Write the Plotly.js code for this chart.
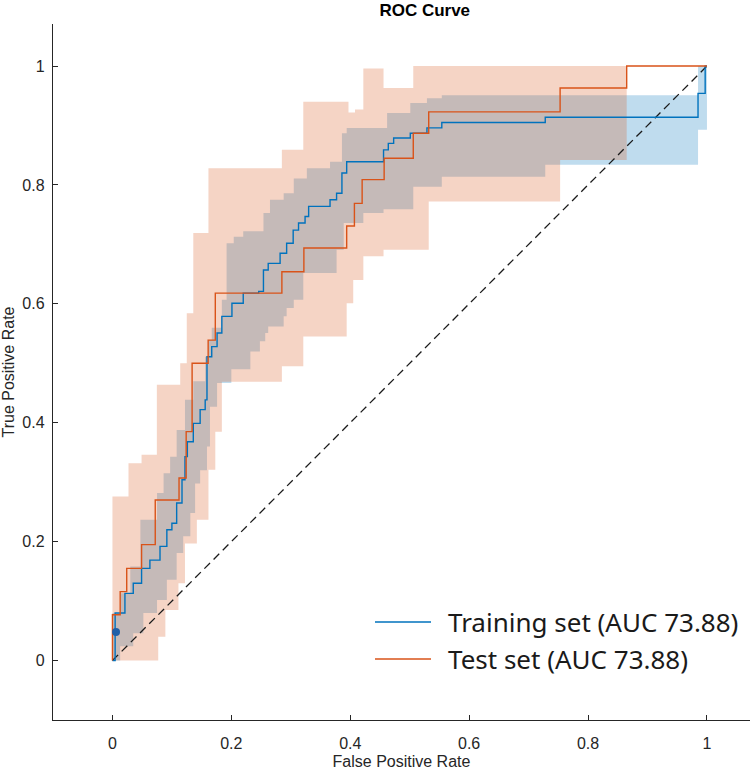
<!DOCTYPE html>
<html><head><meta charset="utf-8">
<script src="https://cdn.plot.ly/plotly-3.0.1.min.js"></script>
<style>html,body{margin:0;padding:0;background:#fff}</style>
</head><body><div id="chart" style="width:750px;height:771px"></div>
<script>
// ---- Data ----
const tickVals = [0, 0.2, 0.4, 0.6, 0.8, 1];
const tickText = ["0", "0.2", "0.4", "0.6", "0.8", "1"];

// Training ROC curve (step points: x where jump happens, y after jump)
const trainFPR = [0, 0.0045, 0.021, 0.035, 0.049, 0.063, 0.080, 0.0915, 0.100, 0.108, 0.117, 0.122, 0.126, 0.136, 0.1475, 0.156, 0.159, 0.167, 0.176, 0.184, 0.201, 0.220, 0.246, 0.254, 0.262, 0.282, 0.293, 0.304, 0.313, 0.324, 0.330, 0.366, 0.377, 0.386, 0.394, 0.456, 0.464, 0.473, 0.501, 0.529, 0.554, 0.728, 0.985, 0.997, 1.0];
const trainTPR = [0, 0.080, 0.113, 0.130, 0.155, 0.169, 0.192, 0.220, 0.231, 0.265, 0.304, 0.343, 0.368, 0.399, 0.422, 0.4385, 0.511, 0.528, 0.551, 0.579, 0.601, 0.618, 0.621, 0.657, 0.668, 0.685, 0.702, 0.724, 0.736, 0.747, 0.764, 0.775, 0.786, 0.820, 0.839, 0.859, 0.870, 0.879, 0.887, 0.896, 0.905, 0.914, 0.954, 1.0, 1.0];

// Test ROC curve
const testFPR = [0, 0, 0.013, 0.024, 0.049, 0.072, 0.112, 0.124, 0.134, 0.161, 0.173, 0.285, 0.322, 0.394, 0.407, 0.420, 0.457, 0.506, 0.532, 0.753, 0.865, 1.0];
const testTPR = [0, 0.077, 0.116, 0.155, 0.195, 0.270, 0.307, 0.385, 0.500, 0.539, 0.618, 0.654, 0.694, 0.731, 0.769, 0.809, 0.845, 0.887, 0.923, 0.963, 1.0, 1.0];

// Training confidence band
const trainUpperX = [0, 0.013, 0.030, 0.047, 0.075, 0.086, 0.097, 0.108, 0.122, 0.136, 0.156, 0.1615, 0.167, 0.184, 0.192, 0.204, 0.220, 0.254, 0.265, 0.288, 0.305, 0.327, 0.366, 0.386, 0.394, 0.462, 0.501, 0.529, 0.554, 0.985, 1.0];
const trainUpperY = [0.080, 0.113, 0.158, 0.237, 0.282, 0.315, 0.343, 0.388, 0.4385, 0.470, 0.511, 0.539, 0.560, 0.607, 0.702, 0.713, 0.722, 0.753, 0.775, 0.786, 0.811, 0.828, 0.839, 0.887, 0.896, 0.921, 0.938, 0.946, 0.951, 1.0, 1.0];
const trainLowerX = [0, 0.013, 0.035, 0.052, 0.075, 0.0915, 0.108, 0.119, 0.131, 0.139, 0.1475, 0.159, 0.164, 0.176, 0.200, 0.232, 0.248, 0.257, 0.262, 0.288, 0.293, 0.305, 0.321, 0.377, 0.389, 0.422, 0.456, 0.506, 0.554, 0.728, 0.985, 1.0];
const trainLowerY = [0, 0.024, 0.046, 0.080, 0.102, 0.136, 0.181, 0.209, 0.248, 0.298, 0.320, 0.360, 0.427, 0.467, 0.490, 0.520, 0.537, 0.551, 0.562, 0.579, 0.593, 0.607, 0.652, 0.691, 0.736, 0.753, 0.759, 0.797, 0.814, 0.834, 0.893, 0.893];

// Test confidence band
const testUpperX = [0, 0.027, 0.049, 0.0747, 0.114, 0.125, 0.136, 0.1615, 0.285, 0.321, 0.397, 0.408, 0.422, 0.456, 0.506, 0.865];
const testUpperY = [0.276, 0.332, 0.346, 0.464, 0.500, 0.584, 0.719, 0.828, 0.859, 0.940, 0.922, 0.927, 0.996, 0.963, 1.0, 1.0];
const testLowerX = [0, 0.077, 0.089, 0.111, 0.122, 0.142, 0.1615, 0.173, 0.184, 0.285, 0.321, 0.394, 0.405, 0.422, 0.456, 0.532, 0.753, 0.865];
const testLowerY = [0, 0.040, 0.085, 0.130, 0.197, 0.237, 0.321, 0.385, 0.469, 0.495, 0.545, 0.601, 0.640, 0.680, 0.691, 0.772, 0.842, 0.842];

// Chance line and operating point
const chanceX = [0, 1];
const chanceY = [0, 1];
const pointX = [0.006];
const pointY = [0.048];

const legendNames = ["Training set (AUC 73.88)", "Test set (AUC 73.88)"];

// ---- Styles ----
const BLUE = '#0072BD', ORANGE = '#D95319', AX = '#262626';
const W = 750, H = 771, ML = 53, MR = 0, MT = 24, MB = 51;

const traces = [
  {x: trainLowerX, y: trainLowerY, mode: 'lines', line: {width: 0, shape: 'hv'}, showlegend: false, hoverinfo: 'skip'},
  {x: trainUpperX, y: trainUpperY, mode: 'lines', line: {width: 0, shape: 'hv'}, fill: 'tonexty', fillcolor: 'rgba(0,114,189,0.25)', showlegend: false, hoverinfo: 'skip'},
  {x: testLowerX, y: testLowerY, mode: 'lines', line: {width: 0, shape: 'hv'}, showlegend: false, hoverinfo: 'skip'},
  {x: testUpperX, y: testUpperY, mode: 'lines', line: {width: 0, shape: 'hv'}, fill: 'tonexty', fillcolor: 'rgba(217,83,25,0.25)', showlegend: false, hoverinfo: 'skip'},
  {x: chanceX, y: chanceY, mode: 'lines', line: {color: '#1a1a1a', width: 1.3, dash: '8px,5px'}, showlegend: false},
  {x: trainFPR, y: trainTPR, mode: 'lines', name: legendNames[0], line: {color: BLUE, width: 1.4, shape: 'hv'}, showlegend: false},
  {x: testFPR, y: testTPR, mode: 'lines', name: legendNames[1], line: {color: ORANGE, width: 1.4, shape: 'hv'}, showlegend: false},
  {x: pointX, y: pointY, mode: 'markers', marker: {color: '#1f5fa8', size: 8}, showlegend: false}
];

const plotW = W - ML - MR, plotH = H - MT - MB;
const pxPerUnit = 594.5;
const xr = [-0.1, -0.1 + plotW / pxPerUnit];
const yr = [-0.1, -0.1 + plotH / pxPerUnit];

function px2paperX(px) { return (px - ML) / plotW; }
function py2paperY(py) { return (H - MB - py) / plotH; }

const legFont = {family: 'Noto Sans, sans-serif', size: 26, color: '#1a1a1a'};
const legendRows = [
  {py: 622, color: BLUE, text: legendNames[0]},
  {py: 659, color: ORANGE, text: legendNames[1]}
];

const layout = {
  width: W, height: H,
  margin: {l: ML, r: MR, t: MT, b: MB},
  paper_bgcolor: '#fff', plot_bgcolor: '#fff',
  font: {family: 'Liberation Sans, Arial, sans-serif', size: 16, color: AX},
  showlegend: false,
  title: {text: 'ROC Curve', font: {family: 'Liberation Sans, Arial, sans-serif', size: 17, weight: 'bold', color: '#000'},
          x: 400 / W, xanchor: 'center', xref: 'paper', y: 1 - 10 / H, yanchor: 'middle', yref: 'container'},
  xaxis: {range: xr, tickvals: tickVals, ticktext: tickText, ticks: 'inside', ticklen: 5, tickwidth: 1, tickcolor: AX,
          showline: true, linecolor: AX, linewidth: 1.2, mirror: false, showgrid: false, zeroline: false,
          ticklabelstandoff: 9, tickfont: {size: 16, color: AX},
          title: {text: 'False Positive Rate', font: {size: 16, color: AX}, standoff: 4}},
  yaxis: {range: yr, tickvals: tickVals, ticktext: tickText, ticks: 'inside', ticklen: 5, tickwidth: 1, tickcolor: AX,
          showline: true, linecolor: AX, linewidth: 1.2, mirror: false, showgrid: false, zeroline: false,
          ticklabelstandoff: 4, tickfont: {size: 16, color: AX},
          title: {text: 'True Positive Rate', font: {size: 16, color: AX}, standoff: 4}},
  shapes: legendRows.map(r => ({type: 'line', xref: 'paper', yref: 'paper',
          x0: px2paperX(375), x1: px2paperX(431), y0: py2paperY(r.py), y1: py2paperY(r.py),
          line: {color: r.color, width: 1.6}})),
  annotations: legendRows.map(r => ({xref: 'paper', yref: 'paper', x: px2paperX(446), y: py2paperY(r.py),
          xanchor: 'left', yanchor: 'middle', showarrow: false, text: r.text, font: legFont}))
};

Plotly.newPlot('chart', traces, layout, {staticPlot: true, displayModeBar: false});
</script>
</body></html>
